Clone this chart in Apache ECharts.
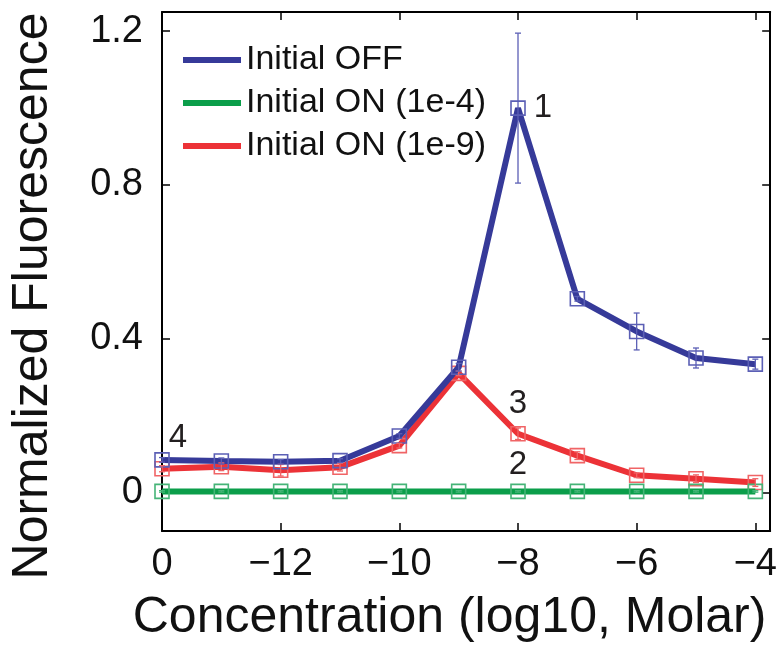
<!DOCTYPE html>
<html><head><meta charset="utf-8">
<script src="https://cdn.jsdelivr.net/npm/echarts@6/dist/echarts.min.js"></script>
<style>html,body{margin:0;padding:0;background:#fff}#c{width:780px;height:648px}</style>
</head><body><div id="c"></div>
<script>
// ---- data ----
const xValues = [-14, -13, -12, -11, -10, -9, -8, -7, -6, -5, -4];
const seriesNames = ['Initial OFF', 'Initial ON (1e-4)', 'Initial ON (1e-9)'];
const offValues = [0.085, 0.082, 0.08, 0.083, 0.147, 0.326, 1.0, 0.504, 0.419, 0.35, 0.334];
const offErrors = [0.006, 0.008, 0.006, 0.005, 0.006, 0.01, 0.195, 0.006, 0.048, 0.026, 0.013];
const on4Values = [0.003, 0.003, 0.003, 0.003, 0.003, 0.003, 0.003, 0.003, 0.003, 0.003, 0.003];
const on4Errors = [0.002, 0.002, 0.002, 0.002, 0.002, 0.002, 0.002, 0.002, 0.002, 0.002, 0.002];
const on9Values = [0.062, 0.067, 0.058, 0.066, 0.122, 0.31, 0.153, 0.096, 0.045, 0.036, 0.026];
const on9Errors = [0.008, 0.01, 0.015, 0.01, 0.006, 0.006, 0.015, 0.01, 0.006, 0.01, 0.01];
const xTickValues = [-14, -12, -10, -8, -6, -4];
const xTickLabels = ['0', '\u221212', '\u221210', '\u22128', '\u22126', '\u22124'];
const yTickValues = [0, 0.4, 0.8, 1.2];
const yTickLabels = ['0', '0.4', '0.8', '1.2'];
const annotSeries = [0, 1, 2, 0];
const annotIndex = [6, 6, 6, 0];
const annotText = ['1', '2', '3', '4'];

// ---- styles ----
const lineColors = ['#363a99', '#0b9e4a', '#ec3237'];
const markColors = ['#5b5fb5', '#45b477', '#f06466'];
const errColors = ['#5b5fb5', '#45b477', '#f06466'];
const FONT = '"Liberation Sans", Arial, Helvetica, sans-serif';
const annotStyle = [
  {position: 'right', distance: 8, offset: [0, 0]},
  {position: 'top', distance: 2, offset: [0, 0]},
  {position: 'top', distance: 6, offset: [0, 0]},
  {position: 'top', distance: 0, offset: [16, 2]}
];

const allValues = [offValues, on4Values, on9Values];
const allErrors = [offErrors, on4Errors, on9Errors];

function lineSeries(k) {
  const data = xValues.map((x, i) => {
    const item = {value: [x, allValues[k][i]]};
    annotSeries.forEach((s, j) => {
      if (s === k && annotIndex[j] === i) {
        item.label = Object.assign({
          show: true, formatter: annotText[j], fontSize: 33, color: '#231f20', fontFamily: FONT
        }, annotStyle[j]);
      }
    });
    return item;
  });
  return {
    type: 'line', name: seriesNames[k], data: data,
    symbol: 'rect', symbolSize: 14, showSymbol: true, z: 4 - k * 0.1,
    lineStyle: {color: lineColors[k], width: 6},
    itemStyle: {color: 'rgba(255,255,255,0)', borderColor: markColors[k], borderWidth: 1.6},
    emphasis: {disabled: true}, animation: false
  };
}

function errorSeries(k) {
  const c = errColors[k];
  return {
    type: 'custom', name: seriesNames[k] + ' err', silent: true, z: 5,
    data: xValues.map((x, i) => [x, allValues[k][i], allErrors[k][i]]),
    renderItem: function (params, api) {
      const x = api.value(0), y = api.value(1), e = api.value(2);
      const t = api.coord([x, y + e]);
      const b = api.coord([x, y - e]);
      const hw = 3;
      const st = {stroke: c, lineWidth: 1.3};
      return {type: 'group', children: [
        {type: 'line', shape: {x1: t[0], y1: t[1], x2: b[0], y2: b[1]}, style: st},
        {type: 'line', shape: {x1: t[0] - hw, y1: t[1], x2: t[0] + hw, y2: t[1]}, style: st},
        {type: 'line', shape: {x1: b[0] - hw, y1: b[1], x2: b[0] + hw, y2: b[1]}, style: st}
      ]};
    },
    animation: false
  };
}

const axisCommon = {
  axisLine: {show: true, onZero: false, lineStyle: {color: '#000', width: 2}},
  axisTick: {show: true, inside: true, length: 8, lineStyle: {color: '#000', width: 1.5}},
  splitLine: {show: false}
};

const option = {
  backgroundColor: '#fff',
  animation: false,
  grid: {left: 162, right: 3, top: 12, bottom: 115, containLabel: false},
  legend: {
    orient: 'vertical', left: 178, top: 37, itemWidth: 58, itemHeight: 6, itemGap: 7,
    textStyle: {fontSize: 34, fontFamily: FONT, color: '#111', lineHeight: 36},
    data: seriesNames.map((n, k) => ({name: n, icon: 'rect', itemStyle: {color: lineColors[k], borderWidth: 0}})),
    selectedMode: false
  },
  xAxis: [
    Object.assign({}, axisCommon, {
      type: 'value', min: -14, max: -3.75, position: 'bottom',
      axisTick: Object.assign({}, axisCommon.axisTick, {customValues: xTickValues}),
      axisLabel: {
        customValues: xTickValues, margin: 15, fontSize: 38, fontFamily: FONT, color: '#111',
        formatter: v => { const i = xTickValues.indexOf(v); return i >= 0 ? xTickLabels[i] : ''; }
      },
      name: 'Concentration (log10, Molar)', nameLocation: 'middle', nameGap: 62,
      nameTextStyle: {fontSize: 50, fontFamily: FONT, color: '#111', padding: [0, 33, 0, 0]}
    }),
    Object.assign({}, axisCommon, {
      type: 'value', min: -14, max: -3.75, position: 'top',
      axisTick: Object.assign({}, axisCommon.axisTick, {customValues: xTickValues}),
      axisLabel: {show: false}
    })
  ],
  yAxis: [
    Object.assign({}, axisCommon, {
      type: 'value', min: -0.1, max: 1.25, position: 'left',
      axisTick: Object.assign({}, axisCommon.axisTick, {customValues: yTickValues}),
      axisLabel: {
        customValues: yTickValues, margin: 19, fontSize: 38, fontFamily: FONT, color: '#111',
        formatter: v => { const i = yTickValues.findIndex(t => Math.abs(t - v) < 1e-9); return i >= 0 ? yTickLabels[i] : ''; }
      },
      name: 'Normalized Fluorescence', nameLocation: 'middle', nameGap: 104, nameRotate: 90,
      nameTextStyle: {fontSize: 50, fontFamily: FONT, color: '#111', padding: [0, 49, 0, 0]}
    }),
    Object.assign({}, axisCommon, {
      type: 'value', min: -0.1, max: 1.25, position: 'right',
      axisTick: Object.assign({}, axisCommon.axisTick, {customValues: yTickValues}),
      axisLabel: {show: false}
    })
  ],
  series: [
    lineSeries(1), lineSeries(2), lineSeries(0),
    errorSeries(1), errorSeries(2), errorSeries(0)
  ]
};

const chart = echarts.init(document.getElementById('c'), null, {renderer: 'canvas'});
chart.setOption(option);
</script>
</body></html>
